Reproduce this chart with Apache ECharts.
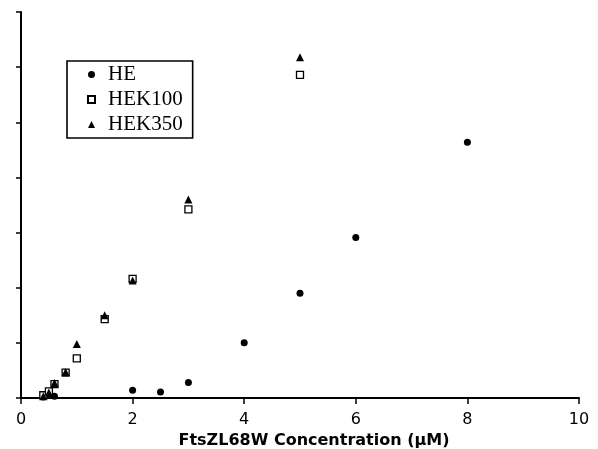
<!DOCTYPE html>
<html>
<head>
<meta charset="utf-8">
<script src="https://cdn.jsdelivr.net/npm/echarts@6/dist/echarts.min.js"></script>
<style>
html,body{margin:0;padding:0;background:#fff;}
#chart{width:598px;height:449px;}
</style>
</head>
<body>
<div id="chart"></div>
<script>
// Data
var seriesNames = ['HE', 'HEK100', 'HEK350'];
var xHE = [0.4, 0.5, 0.6, 2, 2.5, 3, 4, 5, 6, 8];
var yHE = [0.02, 0.05, 0.03, 0.14, 0.11, 0.28, 1.0, 1.9, 2.91, 4.64];
var xHEK = [0.4, 0.5, 0.6, 0.8, 1, 1.5, 2, 3, 5];
var yHEK100 = [0.05, 0.12, 0.25, 0.46, 0.72, 1.43, 2.16, 3.42, 5.86];
var yHEK350 = [0.03, 0.10, 0.27, 0.47, 0.98, 1.50, 2.13, 3.60, 6.18];
var xTicks = [0, 2, 4, 6, 8, 10];
var xTitle = 'FtsZL68W Concentration (\u03BCM)';

function pairs(xs, ys) { return xs.map(function (x, i) { return [x, ys[i]]; }); }

var chart = echarts.init(document.getElementById('chart'), null, {renderer: 'canvas'});
chart.setOption({
  animation: false,
  backgroundColor: '#ffffff',
  grid: {left: 21, right: 19, top: 12, bottom: 51, containLabel: false, outerBoundsMode: 'none'},
  legend: {
    orient: 'vertical',
    left: 67, top: 61,
    data: seriesNames,
    itemWidth: 7, itemHeight: 7, itemGap: 4,
    padding: [3, 10, 3, 20],
    borderColor: '#000', borderWidth: 1.6, borderRadius: 0,
    backgroundColor: '#fff',
    textStyle: {fontFamily: 'Liberation Serif', fontSize: 21, color: '#000', padding: [0, 0, 0, 8]}
  },
  xAxis: {
    type: 'value', min: 0, max: 10, interval: 2,
    name: xTitle, nameLocation: 'middle', nameGap: 31,
    nameTextStyle: {fontFamily: 'DejaVu Sans', fontWeight: 'bold', fontSize: 16, color: '#000', padding: [0, 0, 0, 28]},
    axisLine: {show: true, onZero: false, lineStyle: {color: '#000', width: 2}},
    axisTick: {show: true, inside: false, length: 6, lineStyle: {color: '#000', width: 1.5}},
    axisLabel: {
      margin: 14, fontFamily: 'DejaVu Sans', fontSize: 16, color: '#000',
      formatter: function (v) { return xTicks.indexOf(v) >= 0 ? String(v) : ''; }
    },
    splitLine: {show: false}
  },
  yAxis: {
    type: 'value', min: 0, max: 7, interval: 1,
    axisLine: {show: true, onZero: false, lineStyle: {color: '#000', width: 2}},
    axisTick: {show: true, inside: false, length: 5, lineStyle: {color: '#000', width: 1.5}},
    axisLabel: {show: false},
    splitLine: {show: false}
  },
  series: [
    {
      name: 'HE', type: 'scatter', symbol: 'circle', symbolSize: 7, z: 2,
      itemStyle: {color: '#000', opacity: 1},
      data: pairs(xHE, yHE)
    },
    {
      name: 'HEK100', type: 'scatter', symbol: 'rect', symbolSize: 7, z: 3,
      itemStyle: {color: '#fff', borderColor: '#000', borderWidth: 1.3, opacity: 1},
      data: pairs(xHEK, yHEK100)
    },
    {
      name: 'HEK350', type: 'scatter', symbol: 'triangle', symbolSize: 8, z: 4,
      itemStyle: {color: '#000', opacity: 1},
      data: pairs(xHEK, yHEK350)
    }
  ]
});
</script>
</body>
</html>
